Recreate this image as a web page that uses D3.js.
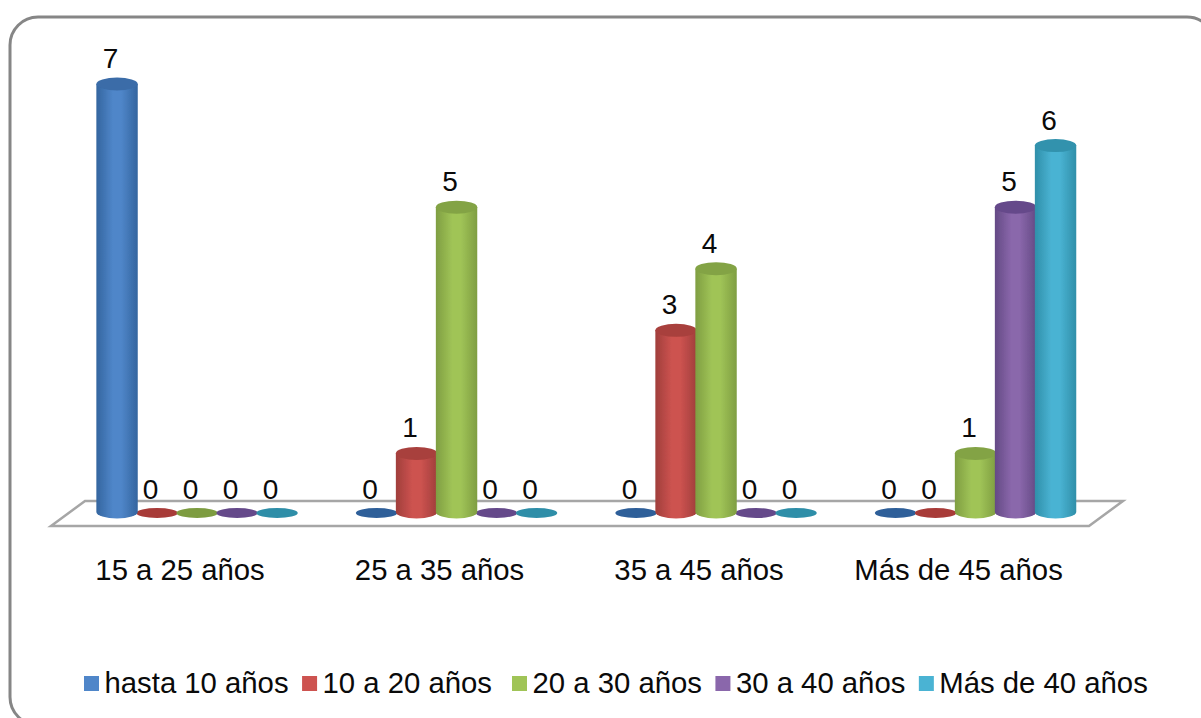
<!DOCTYPE html>
<html>
<head>
<meta charset="utf-8">
<script src="https://cdn.jsdelivr.net/npm/d3@7"></script>
<style>
  html, body { margin: 0; padding: 0; background: #fff; overflow: hidden; }
  svg { display: block; }
  text { font-family: "Liberation Sans", Arial, sans-serif; fill: #0a0a0a; }
  .axis path, .axis line { display: none; }
</style>
</head>
<body>
<svg id="chart" width="1201" height="718"></svg>
<script>
const categories = ["15 a 25 años", "25 a 35 años", "35 a 45 años", "Más de 45 años"]
const seriesNames = ["hasta 10 años", "10 a 20 años", "20 a 30 años", "30 a 40 años", "Más de 40 años"]
const hasta10 = [7, 0, 0, 0]
const de10a20 = [0, 1, 3, 0]
const de20a30 = [0, 5, 4, 1]
const de30a40 = [0, 0, 0, 5]
const mas40 = [0, 0, 0, 6]
const seriesValues = [hasta10, de10a20, de20a30, de30a40, mas40]

// side, middle and top colour of each cylinder
const colours = [
  {edge: "#34659f", mid: "#4f86c9", top: "#3a6ca8", zero: "#2f5f99"},
  {edge: "#a03e3b", mid: "#cd5350", top: "#a83f3c", zero: "#a83a38"},
  {edge: "#7f9e42", mid: "#a0c457", top: "#83a345", zero: "#7d9c40"},
  {edge: "#644a85", mid: "#8a67ab", top: "#65498a", zero: "#65498a"},
  {edge: "#2f8fa9", mid: "#4ab3d3", top: "#3192ad", zero: "#2f8ea8"}
]

const svg = d3.select("#chart")

// frame, runs off the right side of the picture
svg.append("rect")
   .attr("x", 10)
   .attr("y", 17)
   .attr("width", 1205)
   .attr("height", 708)
   .attr("rx", 28)
   .attr("fill", "#fff")
   .attr("stroke", "#868686")
   .attr("stroke-width", 3)

const defs = svg.append("defs")
colours.forEach((c, i) => {
  const g = defs.append("linearGradient").attr("id", "side" + i)
  g.append("stop").attr("offset", "0%").attr("stop-color", c.edge)
  g.append("stop").attr("offset", "40%").attr("stop-color", c.mid)
  g.append("stop").attr("offset", "60%").attr("stop-color", c.mid)
  g.append("stop").attr("offset", "100%").attr("stop-color", c.edge)
})
defs.append("filter")
    .attr("id", "soft")
    .append("feGaussianBlur")
    .attr("stdDeviation", 0.6)

const floorFront = 526
const floorBack = 501
const depth = 34

// the categories sit on the front edge of the floor, the bars further back
const x0 = d3.scaleBand().domain(categories).range([51, 1089])
const x1 = d3.scaleBand().domain(d3.range(seriesNames.length)).range([-100, 100])
const y = d3.scaleLinear().domain([0, 7]).range([515, 84])

const barShift = 16.3
const rx = x1.bandwidth() / 2 + 0.7
const ry = 6.5

svg.append("path")
   .attr("d", d3.line()([
     [x0.range()[0], floorFront],
     [x0.range()[0] + depth, floorBack],
     [x0.range()[1] + depth, floorBack],
     [x0.range()[1], floorFront]
   ]) + "Z")
   .attr("fill", "#fff")
   .attr("stroke", "#a6a6a6")
   .attr("stroke-width", 2.5)

svg.append("g")
   .attr("class", "axis")
   .attr("transform", "translate(-0.7,570)")
   .call(d3.axisBottom(x0).tickSize(0).tickPadding(0))
   .call(g => g.selectAll("text")
               .attr("y", 0)
               .attr("dy", "0.35em")
               .style("font-size", "29.3px")
               .style("font-family", "'Liberation Sans', Arial, sans-serif")
               .attr("fill", "#0a0a0a"))

// flatten to one record per cylinder
let marks = []
categories.forEach((c, ci) => {
  seriesValues.forEach((vals, si) => {
    marks.push({category: c, series: si, value: vals[ci]})
  })
})

const cx = d => x0(d.category) + x0.bandwidth() / 2 + barShift + x1(d.series) + x1.bandwidth() / 2

function cylinder(d){
  const top = y(d.value), bottom = y(0) - 3
  return "M" + (cx(d) - rx) + "," + top +
         "L" + (cx(d) - rx) + "," + bottom +
         "A" + rx + "," + ry + " 0 0 0 " + (cx(d) + rx) + "," + bottom +
         "L" + (cx(d) + rx) + "," + top + "Z"
}

const bars = svg.append("g").attr("filter", "url(#soft)")

bars.selectAll("ellipse.flat")
    .data(marks.filter(d => d.value === 0))
    .join("ellipse")
    .attr("class", "flat")
    .attr("cx", cx)
    .attr("cy", y(0) - 2)
    .attr("rx", rx)
    .attr("ry", 5)
    .attr("fill", d => colours[d.series].zero)

const tall = bars.selectAll("g.bar")
                 .data(marks.filter(d => d.value > 0))
                 .join("g")
                 .attr("class", "bar")

tall.append("path")
    .attr("d", cylinder)
    .attr("fill", d => "url(#side" + d.series + ")")

tall.append("ellipse")
    .attr("cx", cx)
    .attr("cy", d => y(d.value))
    .attr("rx", rx)
    .attr("ry", ry)
    .attr("fill", d => colours[d.series].top)

svg.append("g")
   .selectAll("text")
   .data(marks)
   .join("text")
   .attr("x", d => cx(d) - 6.5)
   .attr("y", d => y(d.value) - 16)
   .attr("text-anchor", "middle")
   .style("font-size", "28px")
   .text(d => d.value)

// legend, each entry starts after the width of the one before
// the gap after the second entry is wider in the original
const legend = svg.append("g").attr("transform", "translate(84,0)")
let legendX = 0
seriesNames.forEach((name, i) => {
  legend.append("rect")
        .attr("x", legendX)
        .attr("y", 676)
        .attr("width", 15)
        .attr("height", 15)
        .attr("fill", colours[i].mid)
  const label = legend.append("text")
                      .attr("x", legendX + 20.5)
                      .attr("y", 693)
                      .style("font-size", "29.3px")
                      .text(name)
  legendX += 20.5 + label.node().getComputedTextLength() + (i == 1 ? 20 : 13.5)
})
</script>
</body>
</html>
